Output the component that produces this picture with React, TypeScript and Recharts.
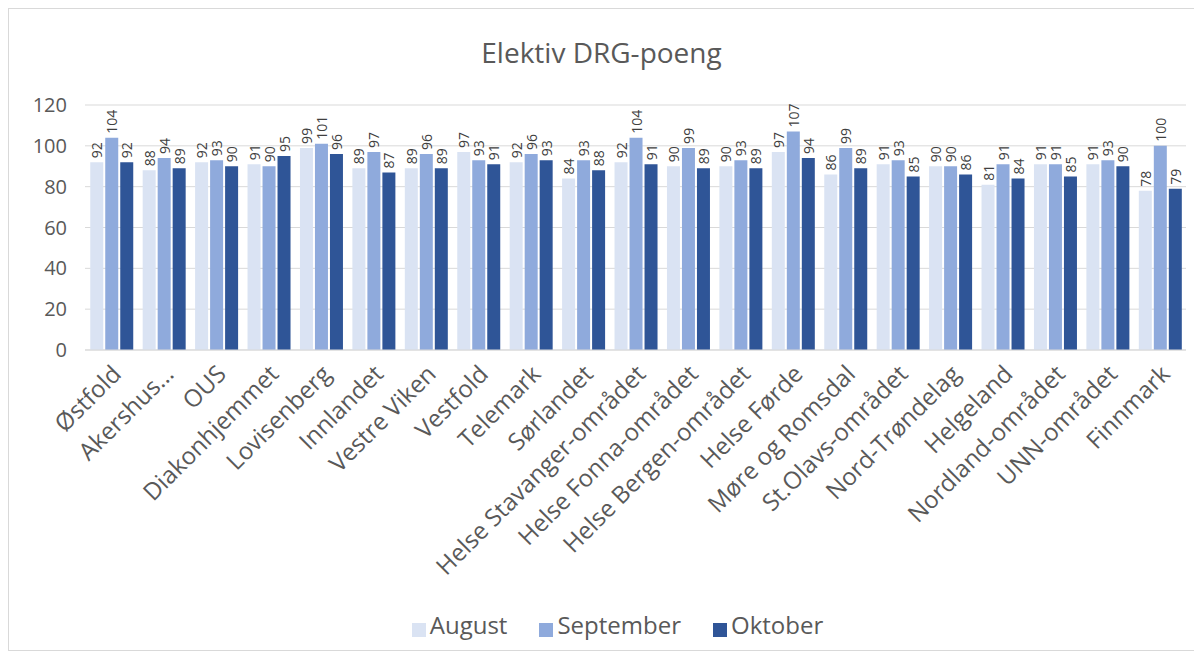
import React from 'react';
import {
  BarChart,
  Bar,
  XAxis,
  YAxis,
  CartesianGrid,
  Legend,
  LabelList,
} from 'recharts';

const categories = [
  'Østfold', 'Akershus…', 'OUS', 'Diakonhjemmet', 'Lovisenberg', 'Innlandet',
  'Vestre Viken', 'Vestfold', 'Telemark', 'Sørlandet', 'Helse Stavanger-området',
  'Helse Fonna-området', 'Helse Bergen-området', 'Helse Førde', 'Møre og Romsdal',
  'St.Olavs-området', 'Nord-Trøndelag', 'Helgeland', 'Nordland-området',
  'UNN-området', 'Finnmark',
];

const august = [92, 88, 92, 91, 99, 89, 89, 97, 92, 84, 92, 90, 90, 97, 86, 91, 90, 81, 91, 91, 78];
const september = [104, 94, 93, 90, 101, 97, 96, 93, 96, 93, 104, 99, 93, 107, 99, 93, 90, 91, 91, 93, 100];
const oktober = [92, 89, 90, 95, 96, 87, 89, 91, 93, 88, 91, 89, 89, 94, 89, 85, 86, 84, 85, 90, 79];

const seriesNames = ['August', 'September', 'Oktober'];
const yTicks = [0, 20, 40, 60, 80, 100, 120];

const data = categories.map((name, i) => ({
  name,
  August: august[i],
  September: september[i],
  Oktober: oktober[i],
}));

const FONT = '"Open Sans", sans-serif';
const TEXT = '#595959';

// rotated category label, anchored at its end under the tick
const AngledTick = (props: any) => {
  const { x, y, payload } = props;
  return (
    <g transform={`translate(${x + 7},${y + 13})`}>
      <text
        transform="rotate(-45)"
        textAnchor="end"
        dominantBaseline="middle"
        fontSize={24}
        fill={TEXT}
        fontFamily={FONT}
      >
        {payload.value}
      </text>
    </g>
  );
};

// vertical value label above each bar
const ValueLabel = (props: any) => {
  const { x, y, width, value } = props;
  const cx = x + width / 2;
  const cy = y - 4;
  return (
    <text
      x={cx}
      y={cy}
      transform={`rotate(-90,${cx},${cy})`}
      textAnchor="start"
      dominantBaseline="central"
      fontSize={14}
      fill="#404040"
      fontFamily={FONT}
    >
      {value}
    </text>
  );
};

export default function App() {
  return (
    <div
      style={{
        position: 'relative',
        width: 1185,
        height: 641,
        border: '1px solid #d9d9d9',
        background: '#fff',
        fontFamily: FONT,
      }}
    >
      <div
        style={{
          position: 'absolute',
          top: 24,
          width: '100%',
          textAlign: 'center',
          fontSize: 28,
          color: TEXT,
        }}
      >
        Elektiv DRG-poeng
      </div>
      <BarChart
        width={1185}
        height={641}
        data={data}
        margin={{ top: 96, right: 8, left: 0, bottom: 8 }}
        barCategoryGap="10%"
        barGap={2}
      >
        <CartesianGrid vertical={false} stroke="#d9d9d9" />
        <XAxis
          dataKey="name"
          interval={0}
          height={258}
          tick={<AngledTick />}
          tickLine={false}
          axisLine={{ stroke: '#d9d9d9' }}
        />
        <YAxis
          domain={[0, 120]}
          ticks={yTicks}
          width={76}
          tickLine={false}
          axisLine={false}
          tick={{ fontSize: 20, fill: TEXT, fontFamily: FONT }}
          tickMargin={12}
        />
        <Legend
          verticalAlign="bottom"
          iconType="square"
          iconSize={14}
          itemSorter={(item: any) => seriesNames.indexOf(item.value)}
          formatter={(v: string) => (
            <span style={{ color: TEXT, fontSize: 24, marginRight: 22 }}>{v}</span>
          )}
          wrapperStyle={{ height: 34, left: 36 }}
        />
        <Bar dataKey="August" fill="#dae3f3" isAnimationActive={false}>
          <LabelList dataKey="August" content={<ValueLabel />} />
        </Bar>
        <Bar dataKey="September" fill="#8faadc" isAnimationActive={false}>
          <LabelList dataKey="September" content={<ValueLabel />} />
        </Bar>
        <Bar dataKey="Oktober" fill="#2f5597" isAnimationActive={false}>
          <LabelList dataKey="Oktober" content={<ValueLabel />} />
        </Bar>
      </BarChart>
    </div>
  );
}
